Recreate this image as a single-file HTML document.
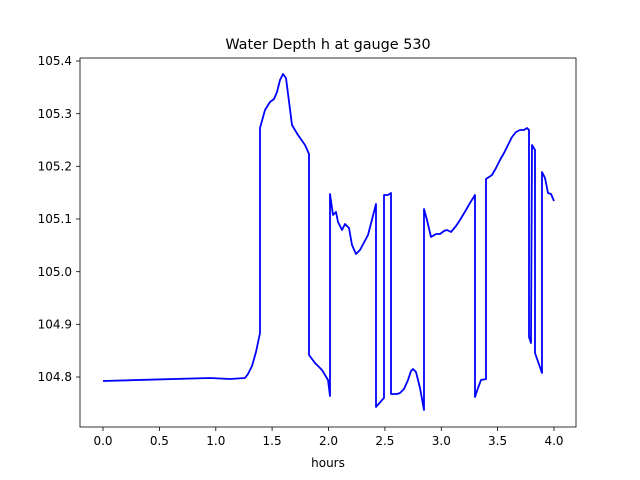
<!DOCTYPE html>
<html><head><style>body{margin:0;background:#fff}svg{display:block}text{font-family:"DejaVu Sans","Liberation Sans",sans-serif;fill:#000}</style></head><body>
<svg width="640" height="480" viewBox="0 0 640 480">
<rect width="640" height="480" fill="#fff"/>
<text x="328" y="49" font-size="14.4" text-anchor="middle">Water Depth h at gauge 530</text>
<g stroke="#000" stroke-width="0.8">
<line x1="103" y1="427" x2="103" y2="431"/><line x1="159.4" y1="427" x2="159.4" y2="431"/><line x1="215.8" y1="427" x2="215.8" y2="431"/><line x1="272.1" y1="427" x2="272.1" y2="431"/><line x1="328.5" y1="427" x2="328.5" y2="431"/><line x1="384.9" y1="427" x2="384.9" y2="431"/><line x1="441.3" y1="427" x2="441.3" y2="431"/><line x1="497.6" y1="427" x2="497.6" y2="431"/><line x1="554" y1="427" x2="554" y2="431"/>
<line x1="76" y1="61" x2="80" y2="61"/><line x1="76" y1="113.7" x2="80" y2="113.7"/><line x1="76" y1="166.3" x2="80" y2="166.3"/><line x1="76" y1="219" x2="80" y2="219"/><line x1="76" y1="271.7" x2="80" y2="271.7"/><line x1="76" y1="324.3" x2="80" y2="324.3"/><line x1="76" y1="377" x2="80" y2="377"/>
</g>
<g font-size="12" text-anchor="middle">
<text x="103" y="445">0.0</text><text x="159.4" y="445">0.5</text><text x="215.8" y="445">1.0</text><text x="272.1" y="445">1.5</text><text x="328.5" y="445">2.0</text><text x="384.9" y="445">2.5</text><text x="441.3" y="445">3.0</text><text x="497.6" y="445">3.5</text><text x="554" y="445">4.0</text>
<text x="328" y="467">hours</text>
</g>
<g font-size="12" text-anchor="end">
<text x="72" y="65">105.4</text><text x="72" y="118">105.3</text><text x="72" y="170.5">105.2</text><text x="72" y="223">105.1</text><text x="72" y="276">105.0</text><text x="72" y="328.5">104.9</text><text x="72" y="381">104.8</text>
</g>
<polyline fill="none" stroke="#0000ff" stroke-width="1.8" stroke-linejoin="round" points="103,381 210,378 230,379 245,378 248,374 252,366 256,352 260,333 260,128 265,110 270,102 274,99 277,92 280,80 283,74 286,78 292,125 298,135 305,145 309,154 309,355 315,363 322,370 328,380 330,396 330,194 333,215 336,212 338,222 342,230 345,224 349,228 352,245 356,254 360,250 368,235 376,204 376,407 383,399 384,398 384,195 388,195 391,193 391,394 397,394 400,393 404,389 408,380 411,371 413,369 416,372 420,388 424,410 424,209 427,220 431,237 436,234 440,234 444,231 447,230 451,232 456,226 460,220 466,210 470,203 475,195 475,397 478,388 481,380 486,379 486,179 492,175 496,168 500,160 504,153 508,145 512,137 516,132 520,130 524,130 527,128 529,130 529,337 531,343 532,145 535,150 535,353 542,373 542,172 545,178 548,193 551,194 554,201"/>
<rect x="80" y="58" width="496" height="369" fill="none" stroke="#000" stroke-width="0.8"/>
</svg>
</body></html>
